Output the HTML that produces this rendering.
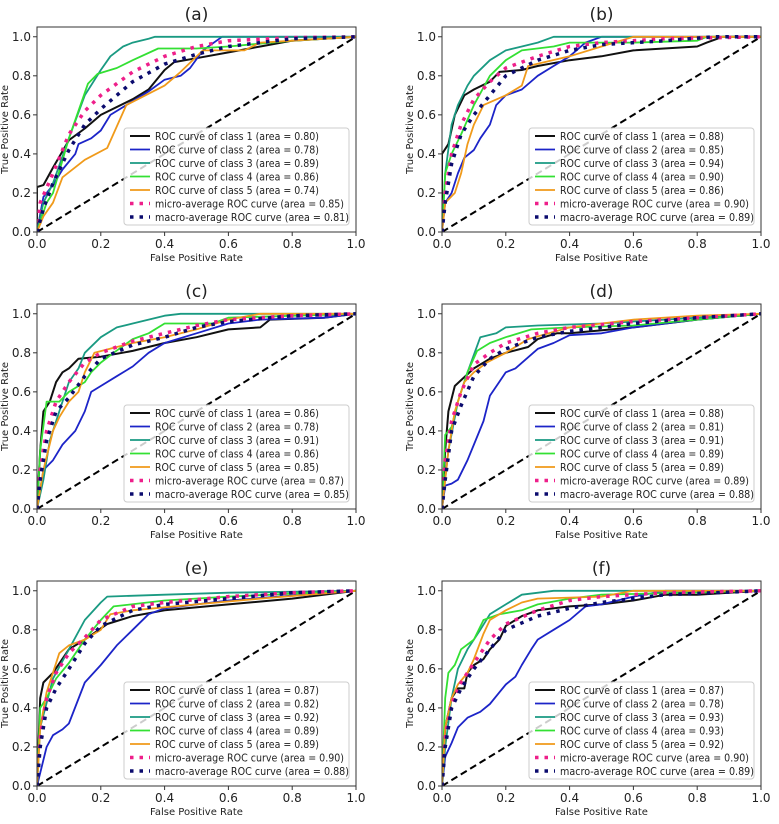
<!DOCTYPE html>
<html><head><meta charset="utf-8"><style>
html,body{margin:0;padding:0;background:#fff;}
svg{display:block;font-family:"DejaVu Sans","Liberation Sans",sans-serif;}
</style></head><body>
<svg id="chart" width="779" height="824" viewBox="0 0 779 824"></svg>
<script>
const panelLabels = ["(a)","(b)","(c)","(d)","(e)","(f)"];
const xTicks = [0,0.2,0.4,0.6,0.8,1.0];
const yTicks = [0,0.2,0.4,0.6,0.8,1.0];
const seriesNames = ["ROC curve of class 1","ROC curve of class 2","ROC curve of class 3","ROC curve of class 4","ROC curve of class 5","micro-average ROC curve","macro-average ROC curve"];
const areasA = [0.80,0.78,0.89,0.86,0.74,0.85,0.81];
const areasB = [0.88,0.85,0.94,0.90,0.86,0.90,0.89];
const areasC = [0.86,0.78,0.91,0.86,0.85,0.87,0.85];
const areasD = [0.88,0.81,0.91,0.89,0.89,0.89,0.88];
const areasE = [0.87,0.82,0.92,0.89,0.89,0.90,0.88];
const areasF = [0.87,0.78,0.93,0.93,0.92,0.90,0.89];

const a_c1=[[0,0],[0,.23],[.02,.24],[.05,.33],[.1,.47],[.15,.53],[.2,.6],[.3,.68],[.35,.73],[.4,.83],[.43,.87],[.5,.89],[.6,.92],[.7,.95],[.8,.98],[1,1]];
const a_c2=[[0,0],[.02,.18],[.05,.24],[.08,.32],[.12,.4],[.13,.45],[.17,.48],[.2,.52],[.23,.6],[.28,.65],[.35,.72],[.4,.78],[.45,.8],[.48,.84],[.52,.93],[.58,1],[1,1]];
const a_c3=[[0,0],[.02,.15],[.05,.25],[.1,.48],[.15,.7],[.2,.83],[.23,.9],[.27,.95],[.3,.97],[.35,.99],[.37,1],[1,1]];
const a_c4=[[0,0],[.03,.15],[.05,.2],[.1,.48],[.16,.76],[.19,.81],[.25,.84],[.3,.88],[.38,.94],[.5,.94],[.6,.95],[.8,.98],[1,1]];
const a_c5=[[0,0],[.02,.08],[.05,.15],[.08,.28],[.15,.37],[.22,.43],[.28,.65],[.4,.75],[.45,.82],[.52,.93],[.65,.93],[.7,.97],[1,1]];
const a_mi=[[0,0],[.01,.15],[.05,.3],[.1,.5],[.15,.62],[.2,.7],[.25,.76],[.3,.82],[.4,.9],[.5,.95],[.6,.98],[.8,.995],[1,1]];
const a_ma=[[0,0],[.02,.12],[.05,.25],[.1,.42],[.15,.55],[.2,.63],[.25,.7],[.3,.77],[.4,.86],[.5,.91],[.6,.95],[.8,.99],[1,1]];

const b_c1=[[0,0],[0,.4],[.02,.45],[.04,.6],[.07,.7],[.1,.73],[.15,.77],[.18,.82],[.25,.83],[.3,.85],[.4,.88],[.5,.9],[.6,.93],[.8,.95],[.83,.97],[.88,1],[1,1]];
const b_c2=[[0,0],[.01,.15],[.03,.2],[.05,.3],[.07,.38],[.1,.42],[.12,.48],[.15,.55],[.17,.65],[.2,.7],[.25,.73],[.3,.8],[.35,.85],[.4,.9],[.45,.97],[.5,1],[1,1]];
const b_c3=[[0,0],[.01,.3],[.03,.55],[.05,.65],[.08,.75],[.1,.8],[.15,.88],[.2,.93],[.25,.95],[.3,.97],[.35,1],[1,1]];
const b_c4=[[0,0],[.01,.3],[.03,.4],[.06,.5],[.1,.65],[.15,.8],[.2,.88],[.25,.93],[.35,.95],[.4,.97],[.6,.97],[.8,.98],[.83,1],[1,1]];
const b_c5=[[0,0],[.01,.15],[.04,.2],[.06,.3],[.08,.45],[.1,.55],[.13,.65],[.2,.7],[.25,.75],[.27,.85],[.4,.9],[.5,.95],[.6,1],[1,1]];
const b_mi=[[0,0],[.01,.2],[.03,.4],[.06,.55],[.1,.68],[.15,.77],[.2,.84],[.3,.9],[.4,.95],[.5,.97],[.7,.99],[1,1]];
const b_ma=[[0,0],[.01,.15],[.03,.35],[.06,.5],[.1,.6],[.15,.7],[.2,.8],[.3,.88],[.4,.93],[.5,.96],[.7,.98],[.85,1],[1,1]];

const c_c1=[[0,0],[.01,.3],[.02,.5],[.04,.55],[.06,.65],[.08,.7],[.1,.72],[.13,.77],[.2,.78],[.3,.81],[.4,.85],[.5,.88],[.6,.92],[.7,.93],[.73,.97],[.9,.98],[1,1]];
const c_c2=[[0,0],[.02,.2],[.05,.25],[.08,.33],[.12,.4],[.15,.5],[.17,.6],[.2,.63],[.25,.68],[.3,.73],[.35,.8],[.4,.85],[.5,.9],[.6,.95],[.7,.97],[.9,.98],[1,1]];
const c_c3=[[0,0],[.02,.15],[.04,.35],[.07,.5],[.1,.65],[.13,.72],[.15,.8],[.2,.88],[.25,.93],[.3,.95],[.4,.99],[.45,1],[1,1]];
const c_c4=[[0,0],[.01,.3],[.03,.55],[.07,.55],[.1,.6],[.15,.65],[.17,.7],[.2,.75],[.24,.8],[.3,.87],[.35,.9],[.4,.95],[.55,.95],[.6,.98],[1,1]];
const c_c5=[[0,0],[.02,.2],[.05,.4],[.07,.47],[.1,.55],[.13,.6],[.15,.7],[.18,.8],[.25,.83],[.3,.85],[.4,.88],[.5,.92],[.6,.97],[.7,1],[1,1]];
const c_mi=[[0,0],[.01,.2],[.03,.4],[.06,.55],[.1,.65],[.15,.75],[.2,.8],[.3,.86],[.4,.9],[.5,.94],[.6,.97],[.8,.99],[1,1]];
const c_ma=[[0,0],[.01,.15],[.03,.35],[.06,.5],[.1,.57],[.15,.68],[.2,.77],[.3,.84],[.4,.88],[.5,.93],[.6,.96],[.8,.99],[1,1]];

const d_c1=[[0,0],[.01,.3],[.02,.5],[.04,.63],[.06,.66],[.1,.72],[.15,.77],[.2,.8],[.27,.83],[.3,.87],[.36,.9],[.4,.9],[.6,.93],[.8,.97],[1,1]];
const d_c2=[[0,0],[.01,.12],[.03,.13],[.05,.15],[.08,.25],[.1,.33],[.13,.45],[.15,.58],[.2,.7],[.23,.72],[.3,.82],[.35,.85],[.4,.89],[.5,.9],[.6,.93],[.8,.97],[1,1]];
const d_c3=[[0,0],[.02,.3],[.05,.55],[.08,.7],[.12,.88],[.17,.9],[.2,.93],[.3,.94],[.5,.95],[.7,.97],[1,1]];
const d_c4=[[0,0],[.01,.38],[.03,.42],[.05,.55],[.08,.7],[.11,.81],[.15,.85],[.2,.88],[.28,.92],[.4,.93],[.6,.94],[.8,.97],[1,1]];
const d_c5=[[0,0],[.02,.3],[.04,.5],[.07,.65],[.1,.7],[.14,.75],[.2,.8],[.27,.87],[.4,.93],[.6,.97],[.8,.99],[1,1]];
const d_mi=[[0,0],[.01,.25],[.03,.45],[.06,.6],[.1,.74],[.15,.8],[.2,.85],[.3,.9],[.4,.93],[.6,.96],[.8,.98],[1,1]];
const d_ma=[[0,0],[.01,.15],[.03,.4],[.06,.53],[.1,.68],[.15,.77],[.2,.82],[.3,.88],[.4,.91],[.6,.95],[.8,.98],[1,1]];

const e_c1=[[0,0],[.01,.45],[.02,.53],[.05,.58],[.1,.7],[.15,.75],[.22,.83],[.3,.87],[.4,.9],[.6,.93],[.8,.96],[1,1]];
const e_c2=[[0,0],[.03,.2],[.05,.26],[.08,.29],[.1,.32],[.15,.53],[.2,.62],[.25,.72],[.3,.8],[.35,.88],[.4,.91],[.6,.95],[1,1]];
const e_c3=[[0,0],[.01,.3],[.05,.55],[.1,.7],[.15,.85],[.2,.94],[.22,.97],[.4,.98],[.6,.99],[1,1]];
const e_c4=[[0,0],[.01,.4],[.03,.45],[.06,.55],[.1,.63],[.15,.75],[.2,.85],[.24,.92],[.4,.95],[.6,.97],[1,1]];
const e_c5=[[0,0],[.01,.3],[.03,.48],[.07,.68],[.1,.72],[.15,.75],[.2,.8],[.23,.88],[.3,.9],[.5,.93],[.7,.96],[1,1]];
const e_mi=[[0,0],[.01,.25],[.03,.45],[.06,.58],[.1,.68],[.15,.76],[.2,.85],[.3,.92],[.4,.94],[.6,.97],[.8,.99],[1,1]];
const e_ma=[[0,0],[.01,.2],[.03,.4],[.06,.5],[.1,.6],[.15,.73],[.2,.82],[.3,.9],[.4,.93],[.6,.96],[.8,.99],[1,1]];

const f_c1=[[0,0],[.01,.3],[.03,.45],[.05,.5],[.07,.5],[.08,.58],[.1,.62],[.13,.65],[.15,.7],[.18,.75],[.2,.82],[.25,.87],[.3,.9],[.4,.92],[.5,.93],[.6,.95],[.7,.98],[.8,.98],[1,1]];
const f_c2=[[0,0],[.01,.15],[.03,.22],[.05,.3],[.08,.35],[.12,.38],[.15,.42],[.18,.48],[.2,.52],[.23,.56],[.25,.62],[.28,.7],[.3,.75],[.35,.8],[.4,.85],[.45,.92],[.5,.93],[.6,.97],[.7,1],[1,1]];
const f_c3=[[0,0],[.01,.2],[.03,.45],[.05,.6],[.08,.7],[.12,.8],[.15,.88],[.2,.93],[.25,.98],[.35,1],[1,1]];
const f_c4=[[0,0],[.01,.45],[.02,.58],[.04,.62],[.06,.7],[.1,.75],[.13,.85],[.18,.88],[.25,.9],[.3,.93],[.4,.96],[.5,.98],[1,1]];
const f_c5=[[0,0],[.01,.3],[.03,.45],[.05,.52],[.08,.58],[.1,.65],[.13,.78],[.15,.85],[.2,.9],[.25,.94],[.3,.96],[.5,.97],[.6,1],[1,1]];
const f_mi=[[0,0],[.01,.25],[.03,.42],[.06,.53],[.1,.63],[.15,.75],[.2,.83],[.3,.9],[.4,.95],[.5,.97],[.7,.99],[1,1]];
const f_ma=[[0,0],[.01,.2],[.03,.4],[.06,.5],[.1,.6],[.15,.7],[.2,.8],[.3,.87],[.4,.91],[.5,.94],[.7,.98],[1,1]];

const panelSeries = [
 [a_c1,a_c2,a_c3,a_c4,a_c5,a_mi,a_ma],
 [b_c1,b_c2,b_c3,b_c4,b_c5,b_mi,b_ma],
 [c_c1,c_c2,c_c3,c_c4,c_c5,c_mi,c_ma],
 [d_c1,d_c2,d_c3,d_c4,d_c5,d_mi,d_ma],
 [e_c1,e_c2,e_c3,e_c4,e_c5,e_mi,e_ma],
 [f_c1,f_c2,f_c3,f_c4,f_c5,f_mi,f_ma]];
const panelAreas = [areasA,areasB,areasC,areasD,areasE,areasF];

const colors=["#111111","#1c24c8","#1a9a82","#33e033","#f09a1a","#ee1f8a","#0b0b6e"];
const widths=[2,1.8,1.8,1.8,1.8,3.5,3.5];
const NS="http://www.w3.org/2000/svg";
const svg=document.getElementById('chart');
function mk(tag,attrs,parent){const e=document.createElementNS(NS,tag);for(const k in attrs)e.setAttribute(k,attrs[k]);(parent||svg).appendChild(e);return e;}

const W=319, H=205, YMAX=1.05;
for(let p=0;p<6;p++){
  const left = p%2===0?37:442;
  const top = [27,304,581][Math.floor(p/2)];
  const xs=v=>left+v*W;
  const ys=v=>top+H-v/YMAX*H;
  const g=mk('g',{});
  
  
  const t=mk('text',{x:left+W/2,y:top-7,'text-anchor':'middle','font-size':17,fill:'#222'},g);
  t.textContent=panelLabels[p];
  
  
  xTicks.forEach(v=>{
    mk('line',{x1:xs(v),x2:xs(v),y1:top+H,y2:top+H+4,stroke:'#333','stroke-width':1},g);
    const tl=mk('text',{x:xs(v),y:top+H+16,'text-anchor':'middle','font-size':12,fill:'#222'},g);
    tl.textContent=v.toFixed(1);
    
    
  });
  yTicks.forEach(v=>{
    mk('line',{x1:left-4,x2:left,y1:ys(v),y2:ys(v),stroke:'#333','stroke-width':1},g);
    const tl=mk('text',{x:left-6,y:ys(v)+4,'text-anchor':'end','font-size':12,fill:'#222'},g);
    tl.textContent=v.toFixed(1);
    
    
  });
  const xl=mk('text',{x:left+W/2,y:top+H+29,'text-anchor':'middle','font-size':10,fill:'#222'},g);
  xl.textContent='False Positive Rate';
  
  
  const yx=left-29, yy=top+H/2;
  const yl=mk('text',{x:yx,y:yy,'text-anchor':'middle','font-size':10,fill:'#222',transform:`rotate(-90 ${yx} ${yy})`},g);
  yl.textContent='True Positive Rate';
  
  
  const cid='clip'+p;
  const cp=mk('clipPath',{id:cid},g);
  mk('rect',{x:left,y:top,width:W,height:H},cp);
  const plot=mk('g',{'clip-path':`url(#${cid})`},g);
  const diag=mk('line',{x1:xs(0),y1:ys(0),x2:xs(1),y2:ys(1),stroke:'#000','stroke-width':2,'stroke-dasharray':'7 4'},plot);
  
  
  const ser=panelSeries[p];
  for(let s=0;s<7;s++){
    const d=ser[s].map((pt,i)=>(i?'L':'M')+xs(pt[0]).toFixed(1)+','+ys(pt[1]).toFixed(1)).join('');
    const attrs={d:d,fill:'none',stroke:colors[s],'stroke-width':widths[s],'stroke-linejoin':'round'};
    if(s>=5){attrs['stroke-dasharray']='3.5 6';}
    const path=mk('path',attrs,plot);
    
    
  }
  mk('rect',{x:left,y:top,width:W,height:H,fill:'none',stroke:'#333','stroke-width':1},g);
  const lx=left+W-232, ly=top+101;
  const lg=mk('g',{},g);
  
  
  mk('rect',{x:lx,y:ly,width:225,height:97,rx:3,fill:'rgba(255,255,255,0.8)',stroke:'#ccc','stroke-width':1},lg);
  const areas=panelAreas[p];
  for(let s=0;s<7;s++){
    const cy=ly+8+s*13.5;
    const la={x1:lx+6,x2:lx+26,y1:cy,y2:cy,stroke:colors[s],'stroke-width':s>=5?3.5:(s===0?2:1.8)};
    if(s>=5)la['stroke-dasharray']='3.5 6';
    const ln=mk('line',la,lg);
    
    
    const tl = s<5?164:(s===5?189:194);
    const tx=mk('text',{x:lx+31,y:cy+4,'font-size':11,fill:'#222',textLength:tl,lengthAdjust:'spacingAndGlyphs'},lg);
    tx.textContent=seriesNames[s]+' (area = '+areas[s].toFixed(2)+')';
    
    
  }
}
</script>
</body></html>
